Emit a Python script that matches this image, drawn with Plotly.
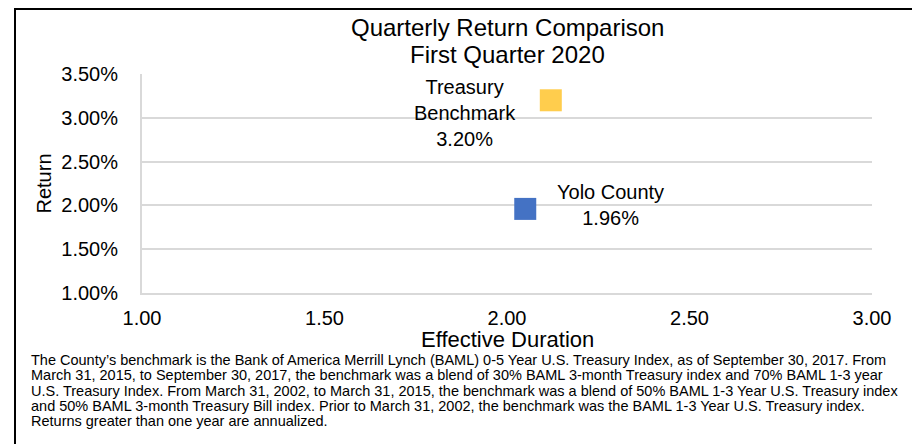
import plotly.graph_objects as go

# ---- data ----
series_names = ["Yolo County", "Treasury Benchmark"]
label_texts = ["Yolo County", "Treasury<br>Benchmark"]
effective_duration = [2.05, 2.12]
quarterly_return = [0.0196, 0.0320]

x_ticks = [1.00, 1.50, 2.00, 2.50, 3.00]
y_ticks = [0.010, 0.015, 0.020, 0.025, 0.030, 0.035]

title_lines = ["Quarterly Return Comparison", "First Quarter 2020"]
x_title = "Effective Duration"
y_title = "Return"
footnote_lines = [
    "The County\u2019s benchmark is the Bank of America Merrill Lynch (BAML) 0-5 Year U.S. Treasury Index, as of September 30, 2017. From",
    "March 31, 2015, to September 30, 2017, the benchmark was a blend of 30% BAML 3-month Treasury index and 70% BAML 1-3 year",
    "U.S. Treasury Index. From March 31, 2002, to March 31, 2015, the benchmark was a blend of 50% BAML 1-3 Year U.S. Treasury index",
    "and 50% BAML 3-month Treasury Bill index. Prior to March 31, 2002, the benchmark was the BAML 1-3 Year U.S. Treasury index.",
    "Returns greater than one year are annualized.",
]

# ---- style ----
FONT = "Liberation Sans, Arial, sans-serif"
colors = ["#4472C4", "#FFCD4D"]
label_shift = [(85, 4), (-86, -13)]
GRID = "#d9d9d9"

OFF = 8  # page offset of the figure (body margin)
W, H = 912, 436
L, R, T, B = 134, 48, 66, 151
pw, ph = W - L - R, H - T - B


def px_x(px):  # page pixel -> paper x
    return (px - OFF - L) / pw


def px_y(py):  # page pixel -> paper y
    return (H - B - (py - OFF)) / ph


fig = go.Figure()
for name, x, y, c in zip(series_names, effective_duration, quarterly_return, colors):
    fig.add_trace(go.Scatter(
        x=[x], y=[y], mode="markers", name=name,
        marker=dict(symbol="square", size=22, color=c, line=dict(width=0)),
        showlegend=False,
    ))

annotations = []
for lab, x, y, (dx, dy) in zip(label_texts, effective_duration, quarterly_return, label_shift):
    annotations.append(dict(
        x=x, y=y, xref="x", yref="y", showarrow=False,
        text=f"{lab}<br>{y * 100:.2f}%", align="center",
        xanchor="center", yanchor="middle", xshift=dx, yshift=dy,
        font=dict(family=FONT, size=20, color="#000000"),
    ))

for line, py in zip(title_lines, [28, 55]):
    annotations.append(dict(
        x=0.5, y=px_y(py), xref="paper", yref="paper", showarrow=False,
        text=line, xanchor="center", yanchor="middle",
        font=dict(family=FONT, size=24, color="#000000"),
    ))

annotations.append(dict(
    x=0.5, y=px_y(339), xref="paper", yref="paper", showarrow=False,
    text=x_title, xanchor="center", yanchor="middle",
    font=dict(family=FONT, size=22, color="#000000"),
))

for i, line in enumerate(footnote_lines):
    annotations.append(dict(
        x=px_x(29), y=px_y(360 + 15.3 * i), xref="paper", yref="paper", showarrow=False,
        text=line, align="left", xanchor="left", yanchor="middle",
        font=dict(family=FONT, size=14.5, color="#000000"),
    ))

fig.update_layout(
    width=W, height=H,
    margin=dict(l=L, r=R, t=T, b=B, pad=0),
    paper_bgcolor="white", plot_bgcolor="white",
    font=dict(family=FONT, color="#000000"),
    annotations=annotations,
    shapes=[dict(
        type="rect", xref="paper", yref="paper",
        x0=px_x(15), x1=px_x(916.5), y0=px_y(480), y1=px_y(9),
        line=dict(color="#000000", width=2), fillcolor="rgba(0,0,0,0)", layer="above",
    )],
    xaxis=dict(
        range=[1, 3], tickvals=x_ticks, tickformat=".2f",
        showgrid=False, zeroline=False,
        showline=True, linecolor=GRID, linewidth=2,
        tickfont=dict(family=FONT, size=20, color="#000000"),
        ticklabelstandoff=6,
        automargin=False,
    ),
    yaxis=dict(
        range=[0.01, 0.035], tickvals=y_ticks, tickformat=".2%",
        showgrid=True, gridcolor=GRID, gridwidth=2, zeroline=False,
        showline=True, linecolor=GRID, linewidth=2,
        tickfont=dict(family=FONT, size=20, color="#000000"),
        ticklabelstandoff=18,
        title=dict(text=y_title, standoff=4,
                   font=dict(family=FONT, size=20, color="#000000")),
        automargin=False,
    ),
)

fig.write_html("out.html")
